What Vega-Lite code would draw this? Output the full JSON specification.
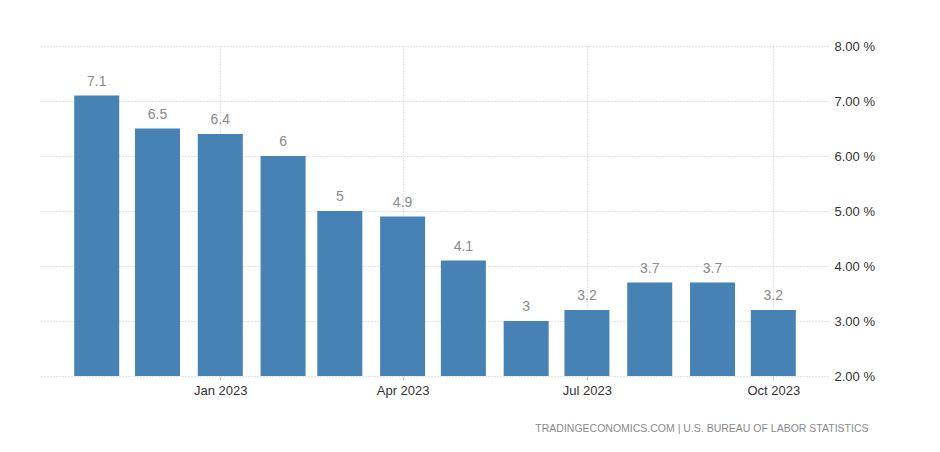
{
  "$schema": "https://vega.github.io/schema/vega-lite/v6.json",
  "autosize": {"type": "none"},
  "width": 788,
  "height": 330,
  "padding": {"left": 40, "top": 46, "right": 112, "bottom": 76},
  "background": "white",
  "config": {
    "view": {"stroke": null},
    "font": "Liberation Sans"
  },
  "title": {
    "text": "TRADINGECONOMICS.COM  |  U.S. BUREAU OF LABOR STATISTICS",
    "orient": "bottom",
    "anchor": "end",
    "dx": -6,
    "offset": 27,
    "fontSize": 10.5,
    "fontWeight": "normal",
    "color": "#8a8a8a",
    "font": "Liberation Sans"
  },
  "data": {
    "values": [
      {"month": "2022-11-01", "rate": 7.1},
      {"month": "2022-12-01", "rate": 6.5},
      {"month": "2023-01-01", "rate": 6.4},
      {"month": "2023-02-01", "rate": 6.0},
      {"month": "2023-03-01", "rate": 5.0},
      {"month": "2023-04-01", "rate": 4.9},
      {"month": "2023-05-01", "rate": 4.1},
      {"month": "2023-06-01", "rate": 3.0},
      {"month": "2023-07-01", "rate": 3.2},
      {"month": "2023-08-01", "rate": 3.7},
      {"month": "2023-09-01", "rate": 3.7},
      {"month": "2023-10-01", "rate": 3.2}
    ]
  },
  "encoding": {
    "x": {
      "field": "month",
      "type": "temporal",
      "scale": {
        "type": "utc",
        "padding": 0,
        "domain": [
          {"year": 2022, "month": 10, "date": 4, "utc": true},
          {"year": 2023, "month": 10, "date": 28, "utc": true}
        ]
      },
      "axis": {
        "title": null,
        "values": [
          {"year": 2023, "month": 1, "date": 1, "utc": true},
          {"year": 2023, "month": 4, "date": 1, "utc": true},
          {"year": 2023, "month": 7, "date": 1, "utc": true},
          {"year": 2023, "month": 10, "date": 1, "utc": true}
        ],
        "labelExpr": "utcFormat(datum.value, '%b %Y')",
        "domain": false,
        "grid": true,
        "gridColor": "#c8c8c8",
        "gridDash": [1, 2],
        "gridWidth": 1,
        "ticks": true,
        "tickSize": 4,
        "tickColor": "#c8c8c8",
        "labelFontSize": 13,
        "labelColor": "#333333",
        "labelPadding": 4
      }
    },
    "y": {
      "field": "rate",
      "type": "quantitative",
      "scale": {"domain": [2, 8], "zero": false, "nice": false},
      "axis": {
        "title": null,
        "orient": "right",
        "values": [2, 3, 4, 5, 6, 7, 8],
        "format": ".2f",
        "labelExpr": "datum.label + ' %'",
        "domain": false,
        "grid": true,
        "gridColor": "#c8c8c8",
        "gridDash": [1, 2],
        "ticks": false,
        "labelPadding": 6,
        "labelFontSize": 13,
        "labelColor": "#333333"
      }
    }
  },
  "layer": [
    {
      "mark": {"type": "bar", "width": 45, "color": "#4682b4"},
      "encoding": {"y2": {"datum": 2}}
    },
    {
      "mark": {"type": "text", "dy": -10, "baseline": "alphabetic", "fontSize": 14, "color": "#8a8a8a"},
      "encoding": {"text": {"field": "rate", "type": "quantitative", "format": "~g"}}
    }
  ]
}
